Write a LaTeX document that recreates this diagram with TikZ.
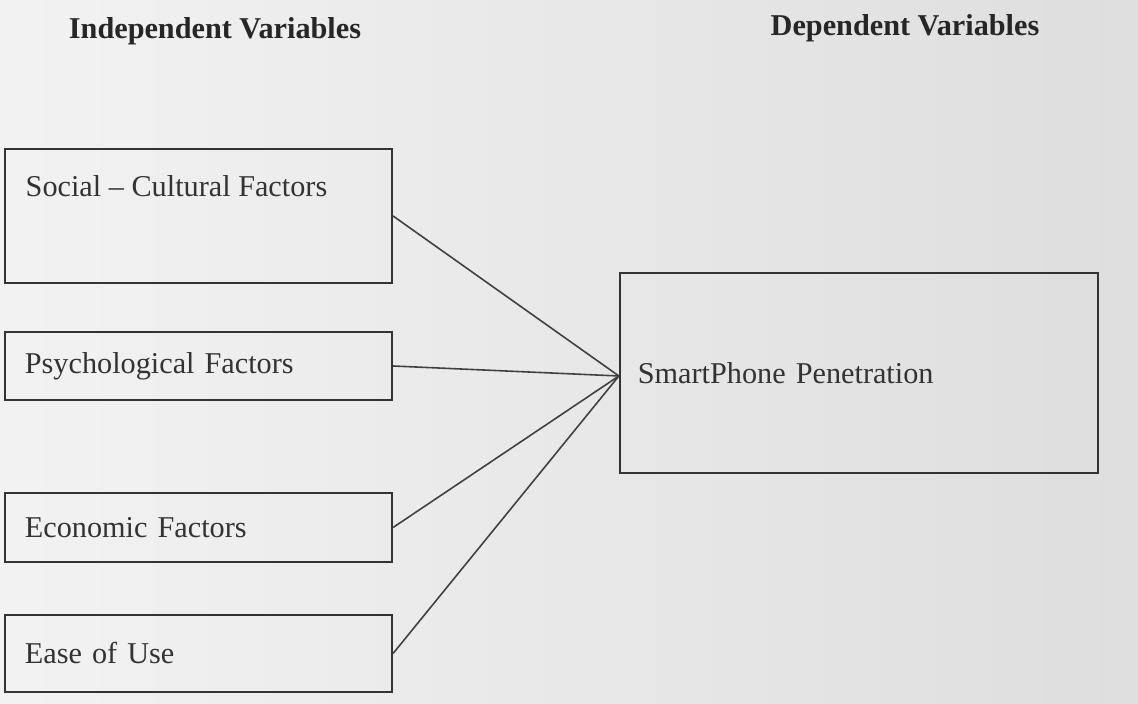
\documentclass[tikz,border=0pt]{standalone}
\usepackage{fontspec}
\setmainfont{Liberation Serif}
\usetikzlibrary{positioning}
\tikzset{
  fbox/.style={rectangle, draw=black!80, line width=0.55pt, align=left,
               inner xsep=0.2cm, font=\fontsize{8.6}{10}\selectfont,
               text=black!80, minimum width=3.87cm, text width=3.47cm},
  hdr/.style={font=\fontsize{8.6}{10}\selectfont\bfseries, text=black!85},
  link/.style={draw=black!75, line width=0.45pt},
}

\begin{document}
\begin{tikzpicture}[x=0.01cm, y=-0.01cm]
  % page background
  \shade[left color=black!5, right color=black!13] (0,0) rectangle (1138,704);
  \useasboundingbox (0,0) rectangle (1138,704);

  \node[hdr] (indep) at (215,31) {Independent Variables};
  \node[hdr] (dep) at (905,28) {Dependent Variables};

  \node[fbox, minimum height=1.34cm] (soc) at (198.5,216) {};
  \node[anchor=north west, inner sep=0pt, font=\fontsize{8.6}{10}\selectfont,
        text=black!80] (soctxt) at (25,175) {Social -- Cultural Factors};
  \node[fbox, minimum height=0.68cm] (psy) at (198.5,366) {Psychological Factors};
  \node[fbox, minimum height=0.69cm] (eco) at (198.5,527.5) {Economic Factors};
  \node[fbox, minimum height=0.77cm] (ease) at (198.5,653.5) {Ease of Use};

  \node[fbox, minimum width=4.78cm, minimum height=2.0cm, inner xsep=0.18cm,
        text width=4.42cm] (smart) at (859,373) {SmartPhone Penetration};

  \foreach \f in {soc, psy, eco, ease}
    \draw[link] (\f.east) -- ([yshift=-0.03cm]smart.west);

\end{tikzpicture}
\end{document}
